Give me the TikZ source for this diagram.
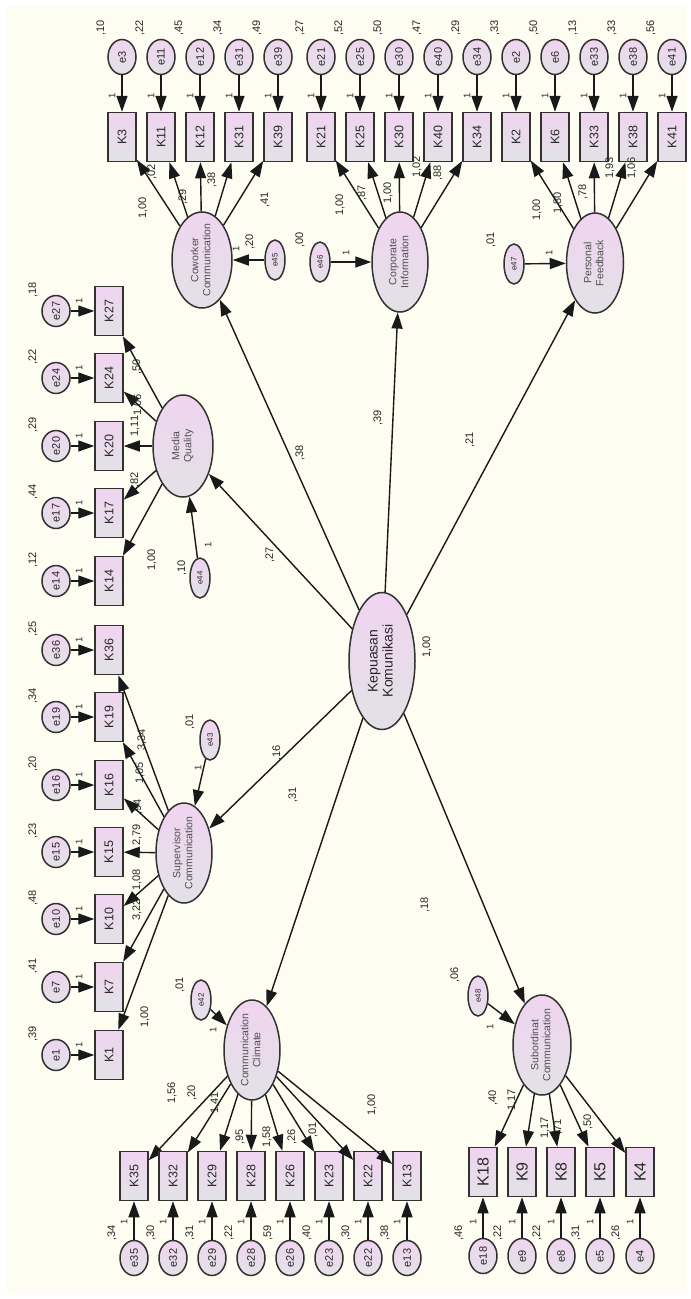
\documentclass[tikz,border=0pt]{standalone}
\usepackage{fontspec}
\setmainfont{Liberation Sans}
\usepackage{graphicx}
\usetikzlibrary{arrows.meta,shapes.geometric}
\definecolor{bgc}{RGB}{253,253,241}
\definecolor{pinkc}{RGB}{240,212,240}
\definecolor{grayc}{RGB}{226,226,230}
\definecolor{lineg}{RGB}{50,50,50}
\definecolor{txt}{RGB}{40,40,40}
\definecolor{ltxt}{RGB}{80,80,80}
\begin{document}
\begin{tikzpicture}[x=1pt,y=-1pt,
 obs/.style={rectangle,draw=lineg,line width=1.5pt,top color=pinkc,bottom color=grayc,minimum width=28pt,minimum height=49pt,inner sep=0pt,text=txt,font=\fontsize{12.5}{13}\selectfont},
 obsb/.style={obs,font=\fontsize{16}{16}\selectfont},
 err/.style={ellipse,draw=lineg,line width=1.5pt,top color=pinkc,bottom color=grayc,minimum width=28pt,minimum height=35pt,inner sep=0pt,text=txt,font=\fontsize{11}{11}\selectfont},
 errl/.style={err,minimum height=31pt},
 serr/.style={err,minimum width=20pt,minimum height=40pt,font=\fontsize{8}{8}\selectfont},
 lat/.style={ellipse,draw=lineg,line width=1.5pt,top color=pinkc,bottom color=grayc,inner xsep=0pt,inner ysep=-14pt,text=ltxt,font=\fontsize{10.5}{12}\selectfont},
 lab/.style={rotate=90,inner sep=0pt,text=txt,font=\fontsize{11}{11}\selectfont},
 one/.style={rotate=90,inner sep=0pt,text=txt,font=\fontsize{9.5}{9.5}\selectfont},
 arr/.style={draw=black!90,line width=1.4pt,-{Triangle[length=16pt,width=11pt]}},
]
\fill[white] (0,0) rectangle (691,1299);
\fill[bgc] (7,6) rectangle (687,1293);
\useasboundingbox (0,0) rectangle (691,1299);

% latent variables
\node[lat,minimum width=60pt,minimum height=96pt] (CW) at (202,260) {\rotatebox{90}{\begin{tabular}{@{}c@{}}Coworker\\Communication\end{tabular}}};
\node[lat,minimum width=56pt,minimum height=100pt] (CI) at (400,262) {\rotatebox{90}{\begin{tabular}{@{}c@{}}Corporate\\Information\end{tabular}}};
\node[lat,minimum width=57pt,minimum height=100pt] (PF) at (595,263) {\rotatebox{90}{\begin{tabular}{@{}c@{}}Personal\\Feedback\end{tabular}}};
\node[lat,minimum width=60pt,minimum height=102pt] (MQ) at (183,446) {\rotatebox{90}{\begin{tabular}{@{}c@{}}Media\\Quality\end{tabular}}};
\node[lat,minimum width=56pt,minimum height=100pt] (SC) at (184,853) {\rotatebox{90}{\begin{tabular}{@{}c@{}}Supervisor\\Communication\end{tabular}}};
\node[lat,minimum width=66pt,minimum height=137pt,font=\fontsize{14}{15}\selectfont,text=txt] (KK) at (382,661) {\rotatebox{90}{\begin{tabular}{@{}c@{}}Kepuasan\\Komunikasi\end{tabular}}};
\node[lat,minimum width=56pt,minimum height=100pt] (CC) at (252,1050) {\rotatebox{90}{\begin{tabular}{@{}c@{}}Communication\\Climate\end{tabular}}};
\node[lat,minimum width=58pt,minimum height=100pt] (SU) at (542,1045) {\rotatebox{90}{\begin{tabular}{@{}c@{}}Subordinat\\Communication\end{tabular}}};

% top row indicators
\foreach \n/\x/\v/\l in {3/122/{,10}/CW,11/161/{,22}/CW,12/200/{,45}/CW,31/239/{,34}/CW,39/278/{,49}/CW,
 21/321/{,27}/CI,25/360/{,52}/CI,30/399/{,50}/CI,40/438/{,47}/CI,34/477/{,29}/CI,
 2/516/{,33}/PF,6/555/{,50}/PF,33/594/{,13}/PF,38/633/{,33}/PF,41/672/{,56}/PF}{
 \node[obs] (K\n) at (\x,137) {\rotatebox{90}{K\n}};
 \node[err] (e\n) at (\x,57) {\rotatebox{90}{e\n}};
 \draw[arr] (e\n) -- (K\n);
 \node[one] (o\n) at (\x-10,96) {1};
 \node[lab] (v\n) at (\x-21,28) {\v};
 \draw[arr] (\l) -- (K\n);
}

% left column indicators
\foreach \n/\y/\v/\l in {27/311/{,18}/MQ,24/378/{,22}/MQ,20/446/{,29}/MQ,17/513/{,44}/MQ,14/581/{,12}/MQ,
 36/650/{,25}/SC,19/717/{,34}/SC,16/785/{,20}/SC,15/852/{,23}/SC,10/919/{,48}/SC,7/987/{,41}/SC,1/1055/{,39}/SC}{
 \node[obs] (K\n) at (109,\y) {\rotatebox{90}{K\n}};
 \node[errl] (e\n) at (56,\y) {\rotatebox{90}{e\n}};
 \draw[arr] (e\n) -- (K\n);
 \node[one] (o\n) at (79,\y-10) {1};
 \node[lab] (v\n) at (33,\y-21) {\v};
 \draw[arr] (\l) -- (K\n);
}

% bottom row: communication climate
\foreach \n/\x/\v in {35/134/{,34},32/173/{,30},29/212/{,31},28/251/{,22},26/290/{,59},23/329/{,40},22/368/{,30},13/407/{,38}}{
 \node[obs] (K\n) at (\x,1176) {\rotatebox{90}{K\n}};
 \node[err] (e\n) at (\x,1258) {\rotatebox{90}{e\n}};
 \draw[arr] (e\n) -- (K\n);
 \node[one] (o\n) at (\x-10,1222) {1};
 \node[lab] (v\n) at (\x-22,1233) {\v};
 \draw[arr] (CC) -- (K\n);
}

% bottom row: subordinat communication
\foreach \n/\x/\v in {18/483/{,46},9/522/{,22},8/561/{,22},5/600/{,31},4/640/{,26}}{
 \node[obsb] (K\n) at (\x,1172) {\rotatebox{90}{K\n}};
 \node[err] (e\n) at (\x,1256) {\rotatebox{90}{e\n}};
 \draw[arr] (e\n) -- (K\n);
 \node[one] (o\n) at (\x-10,1222) {1};
 \node[lab] (v\n) at (\x-24,1233) {\v};
 \draw[arr] (SU) -- (K\n);
}

% disturbances of latent variables
\foreach \n/\x/\y/\l/\ox/\oy/\vx/\vy/\v in {45/275/260/CW/236/249/250/242/{,20},46/320/262/CI/346/253/300/240/{,00},47/514/264/PF/549/253/491/240/{,01},44/200/578/MQ/208/545/182/568/{,10},43/210/740/SC/198/768/190/722/{,01},42/201/1000/CC/213/1030/180/985/{,01},48/478/996/SU/490/1027/455/975/{,06}}{
 \node[serr] (e\n) at (\x,\y) {\rotatebox{90}{e\n}};
 \draw[arr] (e\n) -- (\l);
 \node[one] (o\n) at (\ox,\oy) {1};
 \node[lab] (v\n) at (\vx,\vy) {\v};
}

% structural paths
\foreach \l/\nm/\x/\y/\t in {CW/pa/300/453/{,38},CI/pb/378/418/{,39},PF/pc/470/440/{,21},MQ/pd/270/555/{,27},SC/pe/277/753/{,16},CC/pf/293/795/{,31},SU/pg/425/905/{,18}}{
 \draw[arr] (KK) -- (\l);
 \node[lab] (\nm) at (\x,\y) {\t};
}
\node[lab] (vKK) at (427,647) {1,00};

% loading labels
\foreach \nm/\x/\y/\t in {
 la1/143/208/{1,00},la2/152/172/{,02},la3/183/197/{,29},la4/212/180/{,38},la5/265/200/{,41},
 lb1/340/205/{1,00},lb2/362/193/{,87},lb3/388/193/{1,00},lb4/417/167/{1,02},lb5/438/173/{,88},
 lc1/537/210/{1,00},lc2/558/203/{1,80},lc3/583/192/{,78},lc4/610/168/{1,93},lc5/632/168/{1,06},
 ld1/137/367/{,50},ld2/138/405/{1,06},ld3/135/426/{1,11},ld4/135/480/{,82},ld5/152/560/{1,00},
 le1/142/740/{3,34},le2/140/773/{1,05},le3/138/807/{,94},le4/137/835/{2,79},le5/137/880/{1,08},le6/137/910/{3,22},le7/145/1017/{1,00},
 lf1/172/1093/{1,56},lf2/192/1093/{,20},lf3/215/1103/{1,41},lf4/240/1137/{,95},lf5/267/1137/{1,58},lf6/292/1137/{,26},lf7/313/1130/{,01},lf8/372/1105/{1,00},
 lg1/493/1098/{,40},lg2/512/1100/{1,17},lg3/545/1128/{1,17},lg4/558/1127/{,71},lg5/588/1122/{,50}}{
 \node[lab] (\nm) at (\x,\y) {\t};
}
\end{tikzpicture}
\end{document}
